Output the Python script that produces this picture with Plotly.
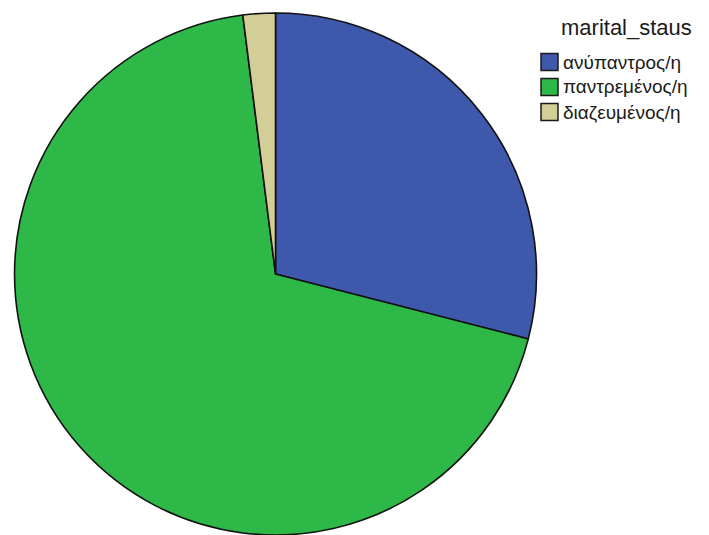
import plotly.graph_objects as go

# Marital status shares
categories = ["ανύπαντρος/η", "παντρεμένος/η", "διαζευμένος/η"]
counts = [29, 69, 2]
colors = ["#3E58AC", "#2EB848", "#D3CE97"]
legend_title = "marital_staus"

W, H = 709, 535
FONT = "Liberation Sans, Arial, sans-serif"


def px(x):
    return x / W


def py(y):
    return 1 - y / H


fig = go.Figure(
    go.Pie(
        labels=categories,
        values=counts,
        sort=False,
        direction="clockwise",
        rotation=0,
        textinfo="none",
        hoverinfo="label+value",
        showlegend=False,
        marker=dict(colors=colors, line=dict(color="#111111", width=1.6)),
        domain=dict(x=[0.0205, 0.7567], y=[0.0, 0.9757]),
    )
)

# Legend block: title, then a swatch + label per category
shapes = []
annotations = [
    dict(
        x=px(626), y=py(27), xref="paper", yref="paper",
        text=legend_title, showarrow=False,
        xanchor="center", yanchor="middle",
        font=dict(family=FONT, size=22, color="#1a1a1a"),
    )
]
row0, step, sw = 62, 25, 17
for i, (lab, col) in enumerate(zip(categories, colors)):
    cy = row0 + i * step
    shapes.append(
        dict(
            type="rect", xref="paper", yref="paper",
            x0=px(541), x1=px(541 + sw), y0=py(cy - sw / 2), y1=py(cy + sw / 2),
            fillcolor=col, line=dict(color="#1a1a1a", width=1.5),
        )
    )
    annotations.append(
        dict(
            x=px(561), y=py(cy), xref="paper", yref="paper",
            text=lab, showarrow=False,
            xanchor="left", yanchor="middle",
            font=dict(family=FONT, size=19, color="#1a1a1a"),
        )
    )

fig.update_layout(
    width=W,
    height=H,
    margin=dict(l=0, r=0, t=0, b=0),
    paper_bgcolor="white",
    plot_bgcolor="white",
    shapes=shapes,
    annotations=annotations,
)

fig.write_html("out.html")
